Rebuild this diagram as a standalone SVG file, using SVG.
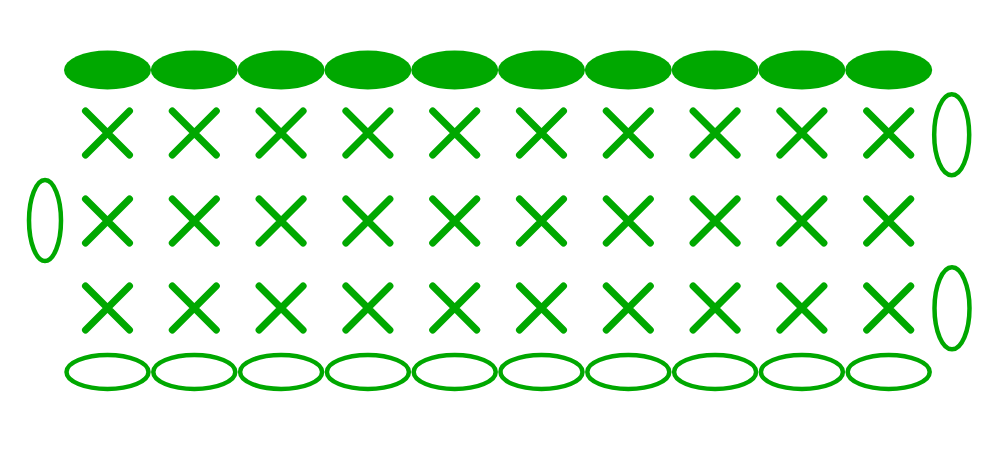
<svg xmlns="http://www.w3.org/2000/svg" width="1000" height="456" viewBox="0 0 1000 456">
<defs>
<style>
.f{fill:#00a800;}
.o{fill:none;stroke:#00a800;stroke-width:4.5;}
.x{stroke:#00a800;stroke-width:7;stroke-linecap:round;fill:none;}
</style>
<g id="X"><path class="x" d="M-22,-22L22,22M22,-22L-22,22"/></g>
</defs>
<rect width="1000" height="456" fill="#fff"/>
<g id="top">
<ellipse class="f" cx="107.5" cy="70" rx="43.5" ry="19.5"/>
<ellipse class="f" cx="194.3" cy="70" rx="43.5" ry="19.5"/>
<ellipse class="f" cx="281.1" cy="70" rx="43.5" ry="19.5"/>
<ellipse class="f" cx="367.9" cy="70" rx="43.5" ry="19.5"/>
<ellipse class="f" cx="454.7" cy="70" rx="43.5" ry="19.5"/>
<ellipse class="f" cx="541.5" cy="70" rx="43.5" ry="19.5"/>
<ellipse class="f" cx="628.3" cy="70" rx="43.5" ry="19.5"/>
<ellipse class="f" cx="715.1" cy="70" rx="43.5" ry="19.5"/>
<ellipse class="f" cx="801.9" cy="70" rx="43.5" ry="19.5"/>
<ellipse class="f" cx="888.7" cy="70" rx="43.5" ry="19.5"/>
</g>
<g id="rows">
<use href="#X" x="107.5" y="133"/><use href="#X" x="194.3" y="133"/><use href="#X" x="281.1" y="133"/><use href="#X" x="367.9" y="133"/><use href="#X" x="454.7" y="133"/><use href="#X" x="541.5" y="133"/><use href="#X" x="628.3" y="133"/><use href="#X" x="715.1" y="133"/><use href="#X" x="801.9" y="133"/><use href="#X" x="888.7" y="133"/>
<use href="#X" x="107.5" y="221"/><use href="#X" x="194.3" y="221"/><use href="#X" x="281.1" y="221"/><use href="#X" x="367.9" y="221"/><use href="#X" x="454.7" y="221"/><use href="#X" x="541.5" y="221"/><use href="#X" x="628.3" y="221"/><use href="#X" x="715.1" y="221"/><use href="#X" x="801.9" y="221"/><use href="#X" x="888.7" y="221"/>
<use href="#X" x="107.5" y="308"/><use href="#X" x="194.3" y="308"/><use href="#X" x="281.1" y="308"/><use href="#X" x="367.9" y="308"/><use href="#X" x="454.7" y="308"/><use href="#X" x="541.5" y="308"/><use href="#X" x="628.3" y="308"/><use href="#X" x="715.1" y="308"/><use href="#X" x="801.9" y="308"/><use href="#X" x="888.7" y="308"/>
</g>
<g id="bottom">
<ellipse class="o" cx="107.5" cy="372" rx="41" ry="17"/>
<ellipse class="o" cx="194.3" cy="372" rx="41" ry="17"/>
<ellipse class="o" cx="281.1" cy="372" rx="41" ry="17"/>
<ellipse class="o" cx="367.9" cy="372" rx="41" ry="17"/>
<ellipse class="o" cx="454.7" cy="372" rx="41" ry="17"/>
<ellipse class="o" cx="541.5" cy="372" rx="41" ry="17"/>
<ellipse class="o" cx="628.3" cy="372" rx="41" ry="17"/>
<ellipse class="o" cx="715.1" cy="372" rx="41" ry="17"/>
<ellipse class="o" cx="801.9" cy="372" rx="41" ry="17"/>
<ellipse class="o" cx="888.7" cy="372" rx="41" ry="17"/>
</g>
<g id="turning">
<ellipse class="o" cx="45" cy="220.5" rx="16" ry="40.5"/>
<ellipse class="o" cx="951.7" cy="134.7" rx="17.5" ry="40.5"/>
<ellipse class="o" cx="952" cy="308.3" rx="17.5" ry="41"/>
</g>
</svg>
